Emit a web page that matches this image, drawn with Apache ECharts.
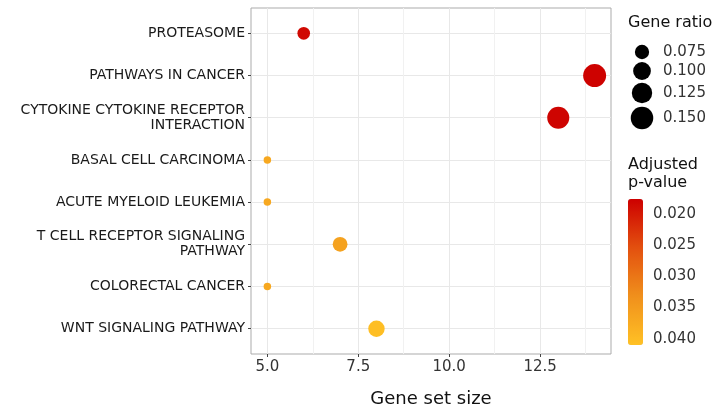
<!DOCTYPE html>
<html>
<head>
<meta charset="utf-8">
<script src="https://cdn.jsdelivr.net/npm/echarts@6/dist/echarts.min.js"></script>
<style>html,body{margin:0;padding:0;background:#fff}#c{width:721px;height:413px}</style>
</head>
<body>
<div id="c"></div>
<script>
const categories = ['PROTEASOME', 'PATHWAYS IN CANCER', 'CYTOKINE CYTOKINE RECEPTOR\nINTERACTION', 'BASAL CELL CARCINOMA', 'ACUTE MYELOID LEUKEMIA', 'T CELL RECEPTOR SIGNALING\nPATHWAY', 'COLORECTAL CANCER', 'WNT SIGNALING PATHWAY'];
const geneSetSize = [6, 14, 13, 5, 5, 7, 5, 8];
const geneRatio = [0.067, 0.156, 0.144, 0.056, 0.056, 0.078, 0.056, 0.089];
const pAdjust = [0.0185, 0.0178, 0.018, 0.037, 0.037, 0.036, 0.037, 0.0405];
const xTicks = [5, 7.5, 10, 12.5];
const xMinorTicks = [6.25, 8.75, 11.25, 13.75];
const sizeBreaks = [0.075, 0.1, 0.125, 0.15];
const pBreaks = [0.02, 0.025, 0.03, 0.035, 0.04];

const FONT = 'DejaVu Sans';
const n = categories.length;
const rMin = Math.min(...geneRatio), rMax = Math.max(...geneRatio);
const dMin = 7.5, dMax = 23;
function sizeFn(v) { return dMin + (dMax - dMin) * Math.sqrt(Math.max(0, (v - rMin) / (rMax - rMin))); }

const pMin = 0.0176, pMax = 0.041;
const cbTop = 199, cbH = 146, cbLeft = 628, cbW = 15;

const data = categories.map((c, i) => [geneSetSize[i], n - i, geneRatio[i], pAdjust[i]]);

const graphics = [];
graphics.push({type: 'text', left: 628, top: 15, style: {text: 'Gene ratio', font: '16px "DejaVu Sans"', fill: '#111'}});
const legY = [52, 71, 93, 118];
sizeBreaks.forEach((b, i) => {
  graphics.push({type: 'circle', shape: {cx: 642, cy: legY[i], r: sizeFn(b) / 2}, style: {fill: '#000'}});
  graphics.push({type: 'text', x: 663, y: legY[i], style: {text: b.toFixed(3), font: '15px "DejaVu Sans"', fill: '#333', verticalAlign: 'middle'}});
});
graphics.push({type: 'text', left: 628, top: 156, style: {text: 'Adjusted\np-value', font: '16px "DejaVu Sans"', fill: '#111', lineHeight: 18}});
pBreaks.forEach(b => {
  const y = cbTop + (b - pMin) / (pMax - pMin) * cbH;
  graphics.push({type: 'text', x: 653, y: y, style: {text: b.toFixed(3), font: '15px "DejaVu Sans"', fill: '#333', verticalAlign: 'middle'}});
  graphics.push({type: 'line', shape: {x1: cbLeft, y1: y, x2: cbLeft + 3, y2: y}, style: {stroke: '#fff', lineWidth: 1}});
  graphics.push({type: 'line', shape: {x1: cbLeft + cbW - 3, y1: y, x2: cbLeft + cbW, y2: y}, style: {stroke: '#fff', lineWidth: 1}});
});

const chart = echarts.init(document.getElementById('c'), null, {renderer: 'canvas'});
chart.setOption({
  animation: false,
  backgroundColor: '#fff',
  textStyle: {fontFamily: FONT},
  grid: {left: 251, top: 8, right: 110, bottom: 59, show: true, borderColor: '#ababab', borderWidth: 1, backgroundColor: 'transparent'},
  xAxis: [{
    type: 'value', min: 4.55, max: 14.45,
    name: 'Gene set size', nameLocation: 'middle', nameGap: 36,
    nameTextStyle: {fontSize: 18, color: '#111', fontFamily: FONT},
    axisLine: {show: false},
    axisTick: {show: true, length: 3, lineStyle: {color: '#444'}, customValues: xTicks},
    axisLabel: {customValues: xTicks, fontSize: 15, color: '#333', margin: 6, fontFamily: FONT, formatter: v => v.toFixed(1)},
    splitLine: {show: true, lineStyle: {color: '#e8e8e8', width: 1}}
  }, {
    type: 'value', min: 4.55, max: 14.45, position: 'bottom',
    axisLine: {show: false}, axisLabel: {show: false},
    axisTick: {show: false, customValues: xMinorTicks},
    splitLine: {show: true, lineStyle: {color: '#f1f1f1', width: 1}}
  }],
  yAxis: {
    type: 'value', min: 0.4, max: n + 0.6,
    axisLine: {show: false},
    axisTick: {show: true, length: 3, lineStyle: {color: '#444'}, customValues: categories.map((c, i) => i + 1)},
    axisLabel: {customValues: categories.map((c, i) => i + 1), fontSize: 14, color: '#1a1a1a', margin: 6, fontFamily: FONT, lineHeight: 15, align: 'right',
      formatter: v => categories[n - Math.round(v)]},
    splitLine: {show: true, lineStyle: {color: '#e8e8e8', width: 1}}
  },
  visualMap: {
    type: 'continuous', dimension: 3, seriesIndex: 0,
    min: pMin, max: pMax, inverse: true, calculable: false, showLabel: false, text: null,
    left: cbLeft, top: cbTop, itemWidth: cbW, itemHeight: cbH, padding: 0,
    inRange: {color: ['#CD0000', '#E3500F', '#F0901C', '#FFC125']}
  },
  series: [{
    type: 'scatter', xAxisIndex: 0,
    data: data,
    symbolSize: v => sizeFn(v[2]),
    itemStyle: {opacity: 1}
  }],
  graphic: graphics
});
</script>
</body>
</html>
